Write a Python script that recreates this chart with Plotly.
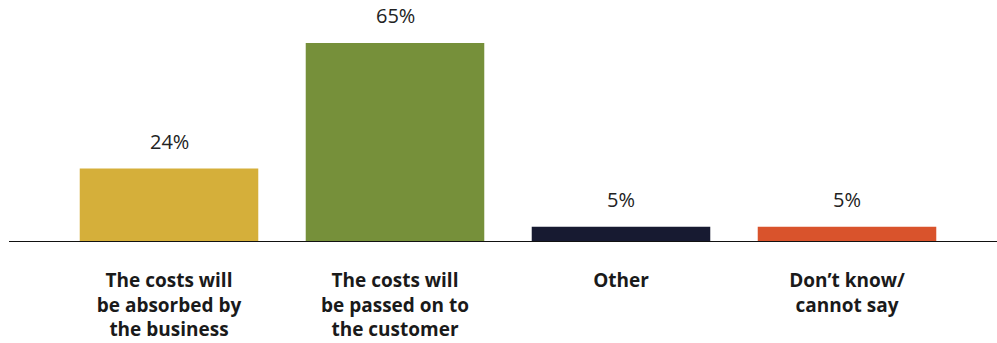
import plotly.graph_objects as go

# Survey responses: how rising costs will be handled
categories = [
    "The costs will<br>be absorbed by<br>the business",
    "The costs will<br>be passed on to<br>the customer",
    "Other",
    "Don’t know/<br>cannot say",
]
values = [24, 65, 5, 5]
value_labels = ["24%", "65%", "5%", "5%"]
bar_colors = ["#D5AF3A", "#76903A", "#171A31", "#D9532C"]

fig = go.Figure()
fig.add_trace(go.Bar(
    x=categories,
    y=values,
    marker=dict(color=bar_colors, line=dict(width=0)),
    hoverinfo="skip",
))

# Percentage labels above each bar
for cat, val, lab in zip(categories, values, value_labels):
    fig.add_annotation(
        x=cat, y=val, text=lab, showarrow=False,
        yanchor="bottom", yshift=12,
        font=dict(family="Open Sans", size=20, color="#222222"),
    )

# Baseline running almost the full width of the page
fig.add_shape(
    type="line", xref="paper", yref="y",
    x0=-47 / 904, x1=941 / 904, y0=0, y1=0,
    line=dict(color="#111111", width=2),
)

fig.update_layout(
    width=997, height=343,
    margin=dict(l=56, r=37, t=0, b=101),
    paper_bgcolor="white", plot_bgcolor="white",
    bargap=0.21,
    showlegend=False,
    xaxis=dict(
        showgrid=False, showline=False, zeroline=False, ticks="",
        tickfont=dict(family="Open Sans", size=19, color="#1a1a1a", weight="bold"),
        ticklabelstandoff=25,
    ),
    yaxis=dict(
        range=[0, 79.05], visible=False, showgrid=False, zeroline=False,
    ),
)

fig.write_html("out.html")
